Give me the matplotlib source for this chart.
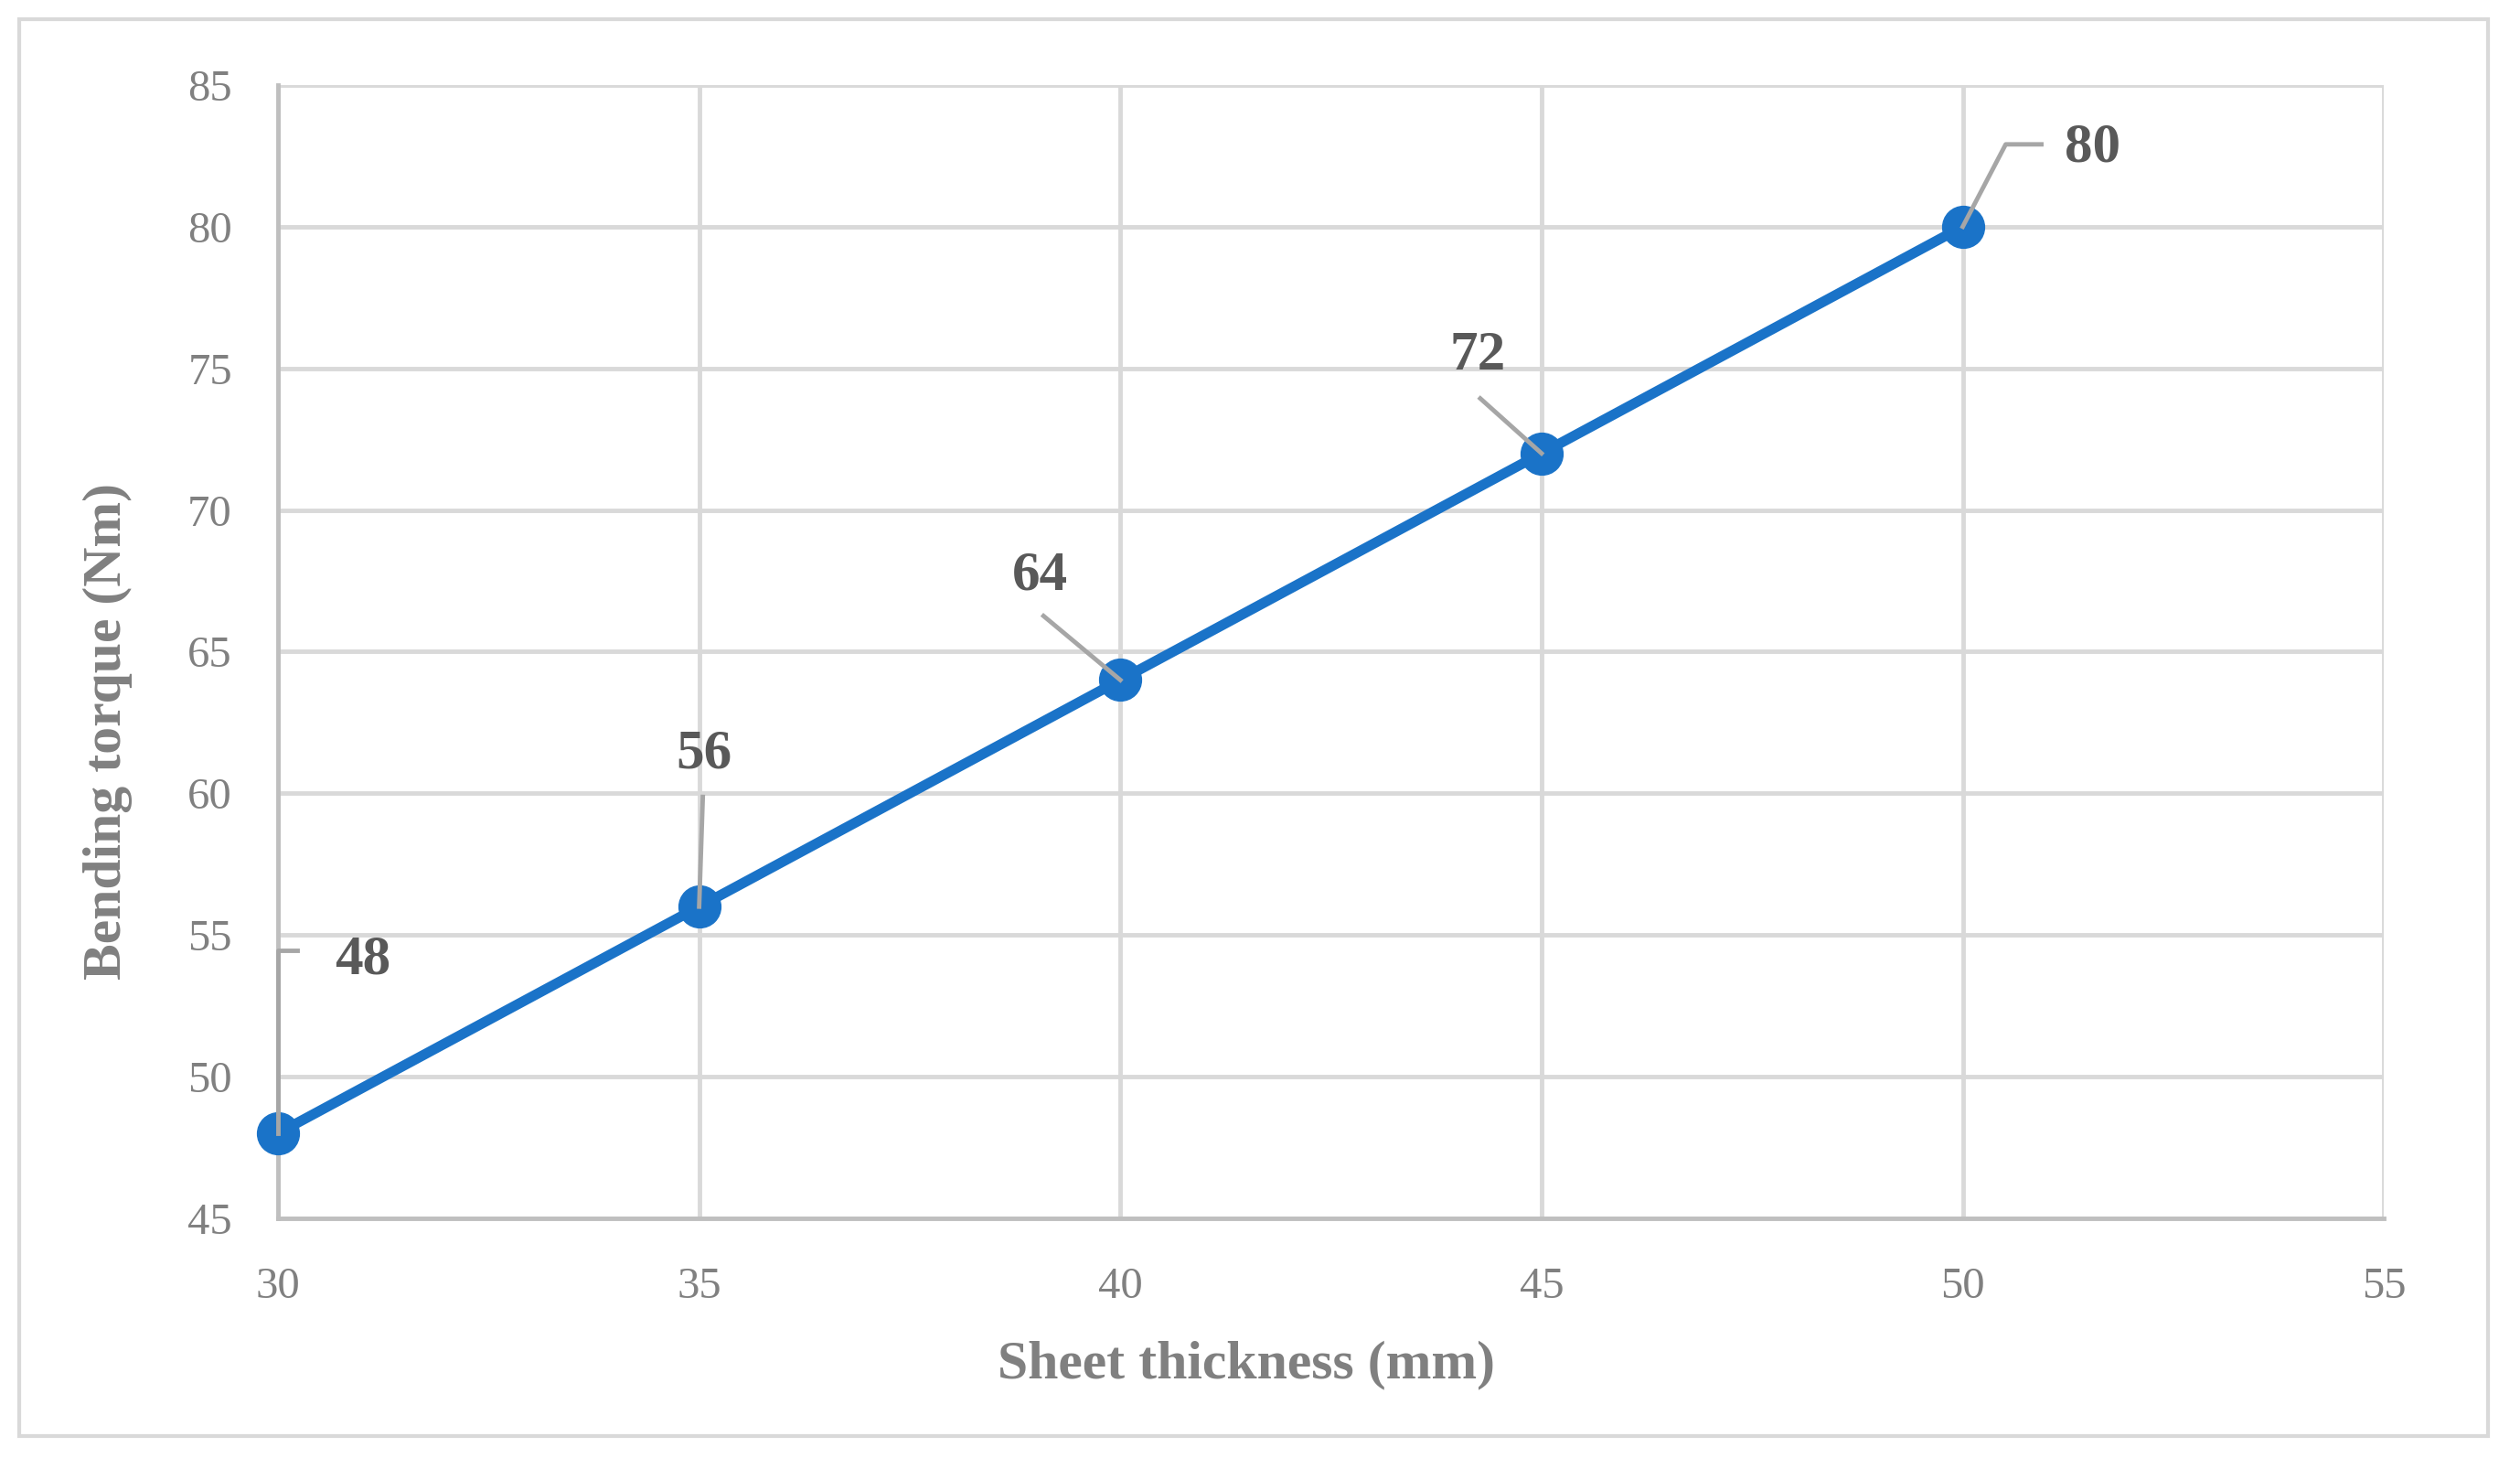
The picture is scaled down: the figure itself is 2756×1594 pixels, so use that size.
import matplotlib
matplotlib.use("Agg")
from matplotlib import pyplot as plt
from matplotlib.patches import Rectangle
from matplotlib.transforms import IdentityTransform

# Chart data
thickness = [30, 35, 40, 45, 50]
torque = [48, 56, 64, 72, 80]
x_ticks = [30, 35, 40, 45, 50, 55]
y_ticks = [45, 50, 55, 60, 65, 70, 75, 80, 85]

# Label placement (pixel offsets from each point): leader vertices and text anchor
leader_offsets = [
    [(0, 0), (0, 200), (21, 200)],
    [(0, 0), (4, 120)],
    [(0, 0), (-84, 70)],
    [(0, 0), (-67, 60)],
    [(0, 0), (47, 90), (86, 90)],
]
text_offsets = [(62, 190, "left"), (5, 167, "center"), (-88, 114, "center"),
                (-70, 107, "center"), (111, 86, "left")]

FONT = "Liberation Serif"
plt.rcParams["font.family"] = FONT

fig = plt.figure(figsize=(27.56, 15.94), dpi=100)
ax = fig.add_axes([0.1103, 0.1644, 0.8357, 0.7773])

ax.plot(thickness, torque, color="#1a73c8", linewidth=8, marker="o",
        markersize=33, clip_on=False, zorder=3)

ax.set_xlim(30, 55)
ax.set_ylim(45, 85)
ax.set_xticks(x_ticks)
ax.set_yticks(y_ticks)
ax.grid(True, color="#d9d9d9", linewidth=3.5)
ax.set_axisbelow(True)
for side in ["top", "right"]:
    ax.spines[side].set_visible(False)
for side in ["left", "bottom"]:
    ax.spines[side].set_color("#bfbfbf")
    ax.spines[side].set_linewidth(3.5)
ax.tick_params(axis="both", length=0, labelsize=35, labelcolor="#808080")
ax.tick_params(axis="y", pad=36)
ax.tick_params(axis="x", pad=38)

ax.set_xlabel("Sheet thickness (mm)", fontsize=43, fontweight="bold", color="#808080")
ax.set_ylabel("Bending torque (Nm)", fontsize=43, fontweight="bold", color="#808080")
ax.xaxis.set_label_coords(0.46, -0.108)
ax.yaxis.set_label_coords(-0.069, 0.43)

# data labels with leader lines
fig.canvas.draw()
for x, y, leader, (tx, ty, ha) in zip(thickness, torque, leader_offsets, text_offsets):
    px, py = ax.transData.transform((x, y))
    xs = [px + dx for dx, dy in leader]
    ys = [py + dy for dx, dy in leader]
    fig.add_artist(plt.Line2D(xs, ys, transform=IdentityTransform(),
                              color="#a6a6a6", linewidth=3.5, zorder=5))
    fig.text(px + tx, py + ty, str(y), transform=IdentityTransform(),
             ha=ha, va="center", fontsize=44, fontweight="bold", color="#595959")

# outer chart border
fig.add_artist(Rectangle((21, 24), 2700, 1549, transform=IdentityTransform(),
                         fill=False, edgecolor="#d9d9d9", linewidth=3))

fig.savefig("out.png", dpi=100)
